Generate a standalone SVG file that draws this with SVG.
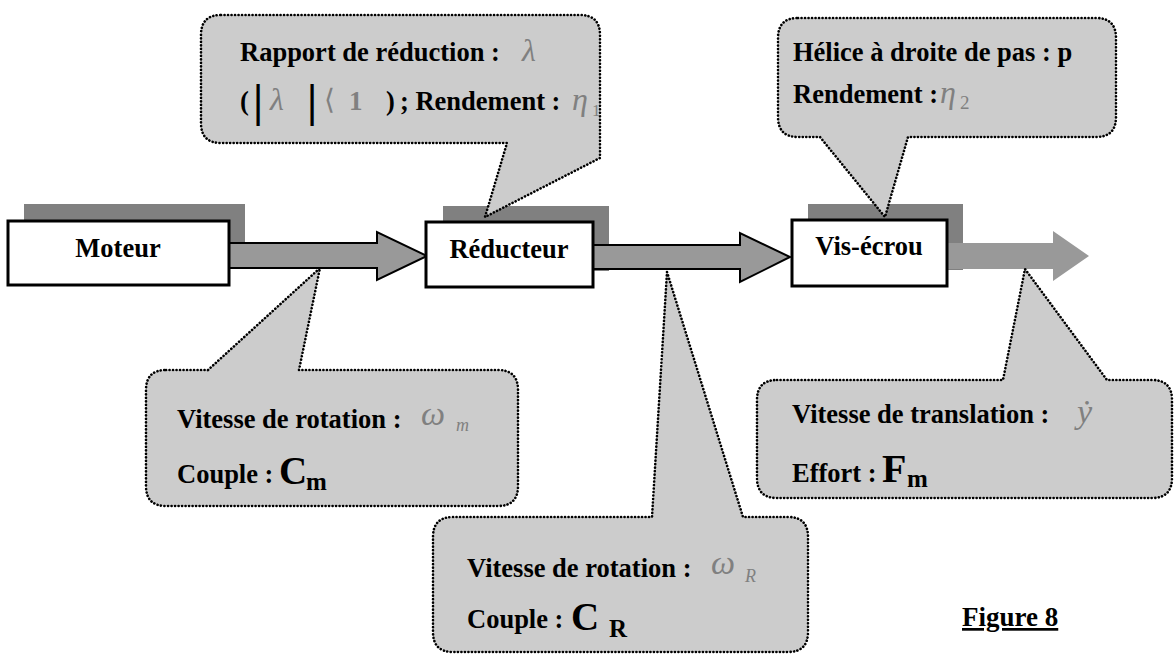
<svg xmlns="http://www.w3.org/2000/svg" width="1174" height="655" viewBox="0 0 1174 655">
<style>
.t{font-family:"Liberation Serif","Times New Roman",serif;font-weight:bold;font-size:26.5px;fill:#000}
.m{font-family:"Liberation Serif","Times New Roman",serif;font-style:italic;fill:#808080}
.bar{font-family:"Liberation Serif","Times New Roman",serif;font-weight:bold;font-size:46px;fill:#000}
.shadow{fill:#808080}
.box{fill:#fff;stroke:#000;stroke-width:3}
.arrow{fill:#999;stroke:#000;stroke-width:2;stroke-linejoin:miter}
.bubble{fill:#ccc;stroke:#000;stroke-width:2.6;stroke-dasharray:0.1 3.4;stroke-linecap:round;stroke-linejoin:round}
</style>
<rect width="1174" height="655" fill="#fff"/>
<g id="shadows">
<rect class="shadow" x="24" y="204" width="221" height="65"/>
<rect class="shadow" x="443" y="206" width="166" height="65"/>
<rect class="shadow" x="808" y="204" width="155" height="66"/>
</g>
<g id="connectors">
<path class="arrow" d="M229 243 H377 V232 L427 256 L377 280 V268 H229 Z"/>
<path class="arrow" d="M593 245 H740 V233 L790 257 L740 282 V269 H593 Z"/>
<path fill="#999" d="M947 243 H1053 V231 L1089 256 L1053 281 V269 H947 Z"/>
</g>
<g id="moteur">
<rect class="box" x="8" y="221" width="221" height="64"/>
<text class="t" x="118" y="257" text-anchor="middle">Moteur</text>
</g>
<g id="reducteur">
<rect class="box" x="426" y="222" width="167" height="65"/>
<text class="t" x="509" y="258" text-anchor="middle">Réducteur</text>
</g>
<g id="vis-ecrou">
<rect class="box" x="792" y="220" width="155" height="66"/>
<text class="t" x="869" y="255" text-anchor="middle">Vis-écrou</text>
</g>
<g id="callout-reducteur">
<path class="bubble" d="M221 15 H580 Q600 15 600 35 V158 L485 217 L507 143 H221 Q201 143 201 123 V35 Q201 15 221 15 Z"/>
<text class="t" x="240" y="61">Rapport de réduction :</text>
<text class="m" x="522" y="61" style="font-size:32px">λ</text>
<text class="t" x="240" y="110">(</text>
<text class="bar" x="253" y="116">|</text>
<text class="m" x="270" y="110" style="font-size:32px">λ</text>
<text class="bar" x="307" y="116">|</text>
<text class="m" x="324" y="109" style="font-size:28px;font-style:normal">⟨</text>
<text class="m" x="349" y="110" style="font-size:27px;font-style:normal;font-weight:bold">1</text>
<text class="t" x="386" y="110">)</text>
<text class="t" x="400" y="110">; Rendement :</text>
<text class="m" x="572" y="110" style="font-size:32px">η</text>
<text class="m" x="592" y="116" style="font-size:17px;font-style:normal">1</text>
</g>
<g id="callout-vis">
<path class="bubble" d="M798 18 H1096 Q1116 18 1116 38 V117 Q1116 137 1096 137 H908 L885 217 L820 137 H798 Q778 137 778 117 V38 Q778 18 798 18 Z"/>
<text class="t" x="793" y="61">Hélice à droite de pas : p</text>
<text class="t" x="793" y="103">Rendement :</text>
<text class="m" x="940" y="103" style="font-size:32px">η</text>
<text class="m" x="960" y="109" style="font-size:19px;font-style:normal">2</text>
</g>
<g id="callout-moteur">
<path class="bubble" d="M166 370 H208 L320 268 L299 370 H498 Q518 370 518 390 V486 Q518 506 498 506 H166 Q146 506 146 486 V390 Q146 370 166 370 Z"/>
<text class="t" x="177" y="428">Vitesse de rotation :</text>
<text class="m" x="421" y="425" style="font-size:34px">ω</text>
<text class="m" x="456" y="431" style="font-size:18px">m</text>
<text class="t" x="177" y="483">Couple :</text>
<text class="t" x="279" y="484" style="font-size:39px">C</text>
<text class="t" x="306" y="490" style="font-size:25px">m</text>
</g>
<g id="callout-reducteur-out">
<path class="bubble" d="M453 517 H652 L667 272 L743 517 H788 Q808 517 808 537 V632 Q808 652 788 652 H453 Q433 652 433 632 V537 Q433 517 453 517 Z"/>
<text class="t" x="467" y="577">Vitesse de rotation :</text>
<text class="m" x="711" y="574" style="font-size:34px">ω</text>
<text class="m" x="745" y="582" style="font-size:18px">R</text>
<text class="t" x="467" y="628">Couple :</text>
<text class="t" x="571" y="630" style="font-size:39px">C</text>
<text class="t" x="609" y="637" style="font-size:25px">R</text>
</g>
<g id="callout-vis-out">
<path class="bubble" d="M777 380 H1003 L1025 269 L1107 380 H1152 Q1172 380 1172 400 V478 Q1172 498 1152 498 H777 Q757 498 757 478 V400 Q757 380 777 380 Z"/>
<text class="t" x="792" y="423">Vitesse de translation :</text>
<text class="m" x="1077" y="423" style="font-size:34px">ẏ</text>
<text class="t" x="792" y="482">Effort :</text>
<text class="t" x="882" y="482" style="font-size:40px">F</text>
<text class="t" x="907" y="487" style="font-size:25px">m</text>
</g>
<g id="caption">
<text class="t" x="962" y="626" style="font-size:27px" text-decoration="underline">Figure 8</text>
</g>
</svg>
